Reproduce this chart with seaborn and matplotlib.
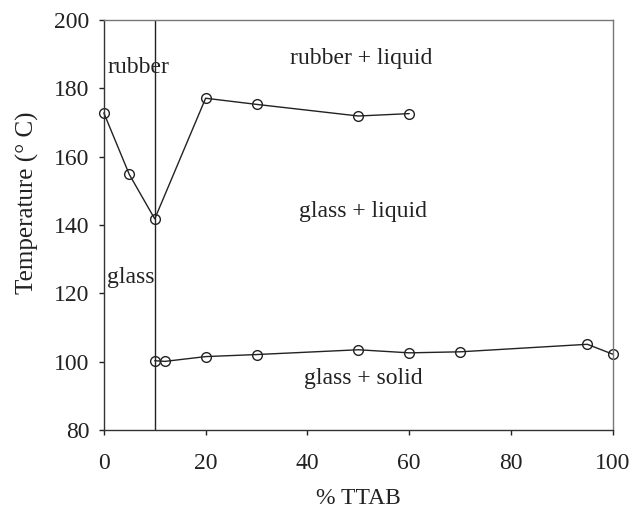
import matplotlib
matplotlib.use("Agg")
import matplotlib.pyplot as plt
import seaborn as sns
import pandas as pd

upper_x = [0, 5, 10, 20, 30, 50, 60]
upper_y = [172.8, 154.8, 141.8, 177.1, 175.3, 171.9, 172.6]
lower_x = [10, 12, 20, 30, 50, 60, 70, 95, 100]
lower_y = [100.3, 100.1, 101.5, 102.1, 103.5, 102.6, 102.9, 105.1, 102.2]
boundary_x = 10

labels = ["rubber", "rubber + liquid", "glass + liquid", "glass", "glass + solid"]
label_x = [0.8, 50.5, 51, 0.6, 51]
label_y = [186, 188.6, 144, 124.5, 95]
label_ha = ["left", "center", "center", "left", "center"]

sns.set_style("ticks")
plt.rcParams['font.family'] = ['Liberation Serif', 'DejaVu Serif']

fig = plt.figure(figsize=(6.41, 5.12), dpi=100)
ax = fig.add_axes([0.162, 0.160, 0.794, 0.801])

up = pd.DataFrame({"x": upper_x, "y": upper_y})
lo = pd.DataFrame({"x": lower_x, "y": lower_y})
for df in (up, lo):
    sns.lineplot(data=df, x="x", y="y", ax=ax, color="#222222", linewidth=1.0,
                 marker="o", markersize=7, markerfacecolor="none",
                 markeredgecolor="#222222", markeredgewidth=1.0, clip_on=False)
ax.axvline(boundary_x, color="#222222", linewidth=1.0)

for t, x, y, ha in zip(labels, label_x, label_y, label_ha):
    ax.text(x, y, t, ha=ha, va="center", fontsize=17, color="#222222")

ax.set_xlim(0, 100)
ax.set_ylim(80, 200)
ax.set_xticks([0, 20, 40, 60, 80, 100])
ax.set_yticks([80, 100, 120, 140, 160, 180, 200])
ax.tick_params(labelsize=17, direction="out", length=3.5, width=1, colors="#222222")
ax.tick_params(axis="x", pad=13)
ax.tick_params(axis="y", pad=7)
ax.set_xlabel("% TTAB", fontsize=17, color="#222222")
ax.set_ylabel("Temperature (° C)", fontsize=18, color="#222222")
ax.xaxis.set_label_coords(0.5, -0.168)
ax.yaxis.set_label_coords(-0.15, 0.554)
ax.xaxis.label.set_va("center")
ax.yaxis.label.set_va("center")
for s in ["left", "bottom"]:
    ax.spines[s].set_color("#333333")
    ax.spines[s].set_linewidth(1.0)
for s in ["top", "right"]:
    ax.spines[s].set_visible(True)
    ax.spines[s].set_color("#777777")
    ax.spines[s].set_linewidth(1.0)

fig.savefig("out.png", dpi=100)
